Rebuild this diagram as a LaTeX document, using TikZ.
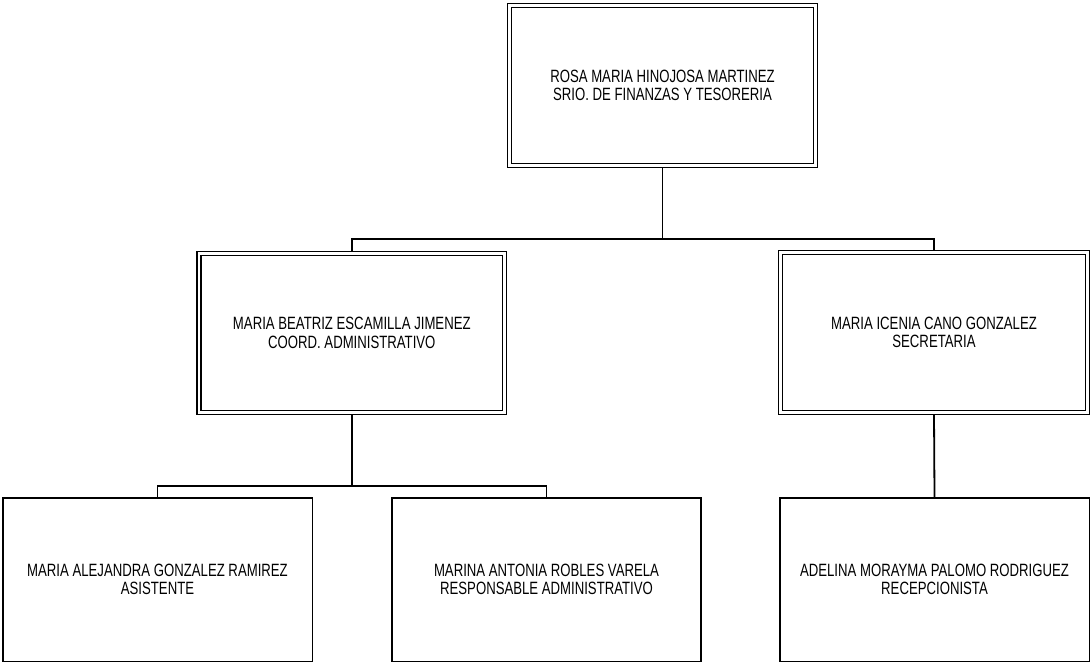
\documentclass[tikz,border=0pt]{standalone}
\usepackage{fontspec}
\setmainfont{Liberation Sans}[FakeStretch=0.74]
\begin{document}
\begin{tikzpicture}[x=1pt,y=-1pt,
  every node/.style={font=\fontsize{17.8}{18.6}\selectfont, align=center, inner sep=0pt},
  dbox/.style={draw=black, line width=1.3pt, double=white, double distance=2.9pt, outer sep=2.75pt, rectangle},
  sbox/.style={draw=black, line width=1.6pt, outer sep=0.8pt, rectangle},
  conn/.style={draw=black, line width=1.8pt}]
\useasboundingbox (0,0) rectangle (1091,663);
\node[dbox, minimum width=305.6pt, minimum height=159.6pt] (top) at (662.5,85.5) {ROSA MARIA HINOJOSA MARTINEZ\\SRIO. DE FINANZAS Y TESORERIA};
\node[dbox, minimum width=305.6pt, minimum height=158.6pt] (ml) at (351.8,333) {MARIA BEATRIZ ESCAMILLA JIMENEZ\\COORD. ADMINISTRATIVO};
\node[dbox, minimum width=306.6pt, minimum height=159.6pt] (mr) at (934,332.5) {MARIA ICENIA CANO GONZALEZ\\SECRETARIA};
\node[sbox, minimum width=309.6pt, minimum height=163.6pt] (bl) at (157.5,579.5) {MARIA ALEJANDRA GONZALEZ RAMIREZ\\ASISTENTE};
\node[sbox, minimum width=308.6pt, minimum height=163.6pt] (bm) at (546.5,579.5) {MARINA ANTONIA ROBLES VARELA\\RESPONSABLE ADMINISTRATIVO};
\node[sbox, minimum width=309.6pt, minimum height=163.6pt] (br) at (934.5,579.5) {ADELINA MORAYMA PALOMO RODRIGUEZ\\RECEPCIONISTA};
\coordinate (j1) at (662.5,239);
\coordinate (j2) at (351.8,486);
\draw[conn] (top.south) -- (j1);
\draw[conn] (ml.north) |- (mr.north |- j1) -- (mr.north);
\draw[conn] (ml.south) -- (j2);
\draw[conn] (bl.north) |- (bm.north |- j2) -- (bm.north);
\draw[conn] (mr.south) -- (br.north);
\end{tikzpicture}
\end{document}
